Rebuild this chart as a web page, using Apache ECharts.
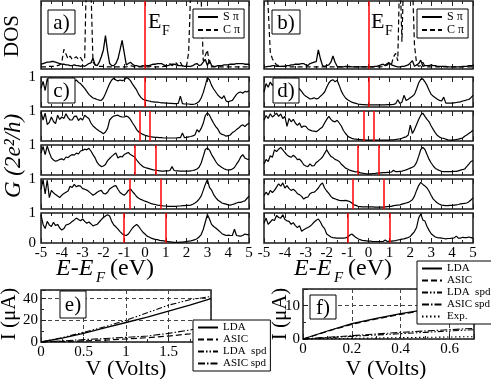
<!DOCTYPE html>
<html>
<head>
<meta charset="utf-8">
<script src="https://cdn.jsdelivr.net/npm/echarts@6/dist/echarts.min.js"></script>
<style>
  html, body { margin: 0; padding: 0; background: #fff; }
  #chart { width: 491px; height: 379px; }
</style>
</head>
<body>
<div id="chart"></div>
<script>
// energy sampling of the DOS / transmission curves (eV), 0.1 eV steps from -5 to 5
const energy = [];
for (let i = 0; i <= 100; i++) energy.push((i - 50) / 10);

// DOS, panel a (arb. units, 1 = top of frame)
const dosSpiA = [
  0.07, 0.08, 0.09, 0.1, 0.1, 0.11, 0.11, 0.1, 0.09, 0.08,
  0.07, 0.07, 0.06, 0.06, 0.05, 0.05, 0.06, 0.05, 0.05, 0.04,
  0.05, 0.04, 0.06, 0.08, 0.09, 0.16, 0.06, 0.05, 0.1, 0.18,
  0.28, 0.49, 0.26, 0.08, 0.05, 0.05, 0.08, 0.15, 0.28, 0.42,
  0.24, 0.06, 0.08, 0.1, 0.07, 0.05, 0.05, 0.04, 0.04, 0.05,
  0.04, 0.05, 0.05, 0.06, 0.07, 0.07, 0.08, 0.08, 0.08, 0.06,
  0.05, 0.05, 0.06, 0.07, 0.07, 0.06, 0.05, 0.05, 0.05, 0.04,
  0.04, 0.04, 0.04, 0.05, 0.07, 0.08, 0.05, 0.06, 0.1, 0.14,
  0.05, 0.13, 0.05, 0.04, 0.04, 0.05, 0.05, 0.05, 0.06, 0.06,
  0.06, 0.07, 0.07, 0.07, 0.08, 0.08, 0.08, 0.08, 0.07, 0.07, 0.07
];
const dosCpiA = [
  0.03, 0.03, 0.03, 0.03, 0.04, 0.04, 0.04, 0.05, 0.05, 0.06,
  0.1, 0.29, 0.22, 0.15, 0.19, 0.14, 0.16, 0.18, 0.14, 0.17,
  0.12, 0.15, 1.6, 1.4, 1.2, 0.1, 0.06, 0.05, 0.04, 0.04,
  0.04, 0.03, 0.03, 0.03, 0.03, 0.03, 0.03, 0.03, 0.03, 0.03,
  0.03, 0.03, 0.04, 0.05, 0.04, 0.03, 0.03, 0.03, 0.03, 0.03,
  0.03, 0.03, 0.03, 0.04, 0.04, 0.03, 0.03, 0.03, 0.03, 0.04,
  0.04, 0.05, 0.08, 0.05, 0.06, 0.09, 0.05, 0.1, 0.04, 0.04,
  0.05, 0.25, 1.2, 1.6, 1.8, 1.6, 1.3, 1.05, 0.12, 0.2,
  0.28, 0.06, 0.03, 0.03, 0.03, 0.03, 0.03, 0.03, 0.03, 0.03,
  0.03, 0.03, 0.03, 0.03, 0.03, 0.03, 0.03, 0.03, 0.03, 0.03, 0.03
];
// DOS, panel b
const dosSpiB = [
  0.03, 0.03, 0.04, 0.04, 0.05, 0.05, 0.04, 0.04, 0.04, 0.04,
  0.04, 0.05, 0.05, 0.06, 0.06, 0.07, 0.07, 0.07, 0.08, 0.08,
  0.06, 0.05, 0.08, 0.09, 0.1, 0.11, 0.28, 0.15, 0.05, 0.04,
  0.05, 0.06, 0.1, 0.19, 0.1, 0.04, 0.03, 0.03, 0.03, 0.04,
  0.04, 0.04, 0.03, 0.03, 0.03, 0.03, 0.03, 0.03, 0.03, 0.03,
  0.03, 0.03, 0.03, 0.04, 0.04, 0.05, 0.06, 0.07, 0.05, 0.06,
  0.09, 0.06, 0.05, 0.04, 0.03, 0.03, 0.04, 0.04, 0.05, 0.06,
  0.09, 0.12, 0.04, 0.06, 0.08, 0.13, 0.04, 0.05, 0.05, 0.05,
  0.06, 0.05, 0.05, 0.04, 0.04, 0.04, 0.04, 0.04, 0.03, 0.03,
  0.03, 0.03, 0.03, 0.03, 0.03, 0.04, 0.04, 0.04, 0.05, 0.05, 0.05
];
const dosCpiB = [
  1.6, 1.4, 0.9, 0.25, 0.15, 0.1, 0.06, 0.05, 0.04, 0.04,
  0.04, 0.03, 0.03, 0.03, 0.03, 0.03, 0.03, 0.03, 0.03, 0.03,
  0.03, 0.03, 0.03, 0.03, 0.03, 0.03, 0.03, 0.03, 0.03, 0.03,
  0.03, 0.03, 0.03, 0.03, 0.03, 0.03, 0.03, 0.03, 0.03, 0.03,
  0.03, 0.03, 0.03, 0.03, 0.03, 0.03, 0.03, 0.03, 0.03, 0.03,
  0.03, 0.03, 0.03, 0.03, 0.03, 0.03, 0.03, 0.04, 0.06, 0.08,
  0.1, 0.07, 0.18, 0.23, 0.12, 1.5, 0.4, 1.6, 1.2, 1.8,
  1.5, 1.3, 0.35, 0.08, 0.04, 0.05, 0.1, 0.04, 0.03, 0.03,
  0.03, 0.03, 0.03, 0.03, 0.03, 0.03, 0.03, 0.03, 0.03, 0.03,
  0.03, 0.03, 0.03, 0.03, 0.03, 0.03, 0.03, 0.03, 0.03, 0.03, 0.03
];

// conductance G (2e^2/h), panels c (one row per bias)
const gC1 = [
  0.62, 0.85, 0.55, 0.95, 0.75, 0.9, 0.8, 0.92, 0.7, 0.85,
  0.78, 0.9, 0.82, 0.95, 0.88, 0.92, 0.86, 0.9, 0.82, 0.78,
  0.7, 0.62, 0.52, 0.42, 0.36, 0.3, 0.28, 0.25, 0.23, 0.22,
  0.3, 0.45, 0.62, 0.78, 0.9, 0.96, 0.9, 0.87, 0.9, 0.88,
  0.9, 0.98, 0.95, 0.88, 0.76, 0.66, 0.56, 0.42, 0.32, 0.26,
  0.23, 0.21, 0.2, 0.18, 0.17, 0.16, 0.16, 0.15, 0.14, 0.14,
  0.13, 0.13, 0.12, 0.12, 0.11, 0.11, 0.12, 0.36, 0.11, 0.1,
  0.1, 0.1, 0.09, 0.09, 0.1, 0.13, 0.18, 0.3, 0.48, 0.72,
  0.98, 0.9, 0.72, 0.6, 0.5, 0.4, 0.33, 0.28, 0.38, 0.2,
  0.17, 0.2, 0.22, 0.32, 0.42, 0.48, 0.5, 0.46, 0.52, 0.5, 0.54
];
const gC2 = [
  0.97, 0.7, 0.93, 0.55, 0.62, 0.8, 0.65, 0.58, 0.86, 0.72,
  0.8, 0.75, 0.91, 0.78, 0.7, 0.7, 0.82, 0.83, 0.68, 0.76,
  0.7, 0.86, 0.8, 0.75, 0.6, 0.5, 0.44, 0.38, 0.33, 0.29,
  0.24, 0.3, 0.42, 0.7, 0.78, 0.83, 0.85, 0.86, 0.82, 0.8,
  0.8, 0.83, 0.8, 0.72, 0.6, 0.5, 0.38, 0.3, 0.26, 0.22,
  0.19, 0.17, 0.15, 0.14, 0.13, 0.12, 0.12, 0.11, 0.11, 0.1,
  0.1, 0.1, 0.1, 0.1, 0.1, 0.1, 0.11, 0.11, 0.27, 0.11,
  0.12, 0.14, 0.15, 0.17, 0.2, 0.38, 0.3, 0.42, 0.59, 0.85,
  0.94, 0.86, 0.72, 0.59, 0.48, 0.4, 0.27, 0.22, 0.2, 0.16,
  0.18, 0.2, 0.28, 0.32, 0.38, 0.43, 0.5, 0.54, 0.48, 0.55, 0.59
];
const gC3 = [
  0.73, 0.95, 0.68, 0.97, 0.75, 0.57, 0.5, 0.46, 0.48, 0.52,
  0.54, 0.5, 0.6, 0.58, 0.64, 0.68, 0.66, 0.73, 0.7, 0.8,
  0.82, 0.86, 0.84, 0.89, 0.8, 0.68, 0.57, 0.42, 0.33, 0.28,
  0.3, 0.35, 0.48, 0.55, 0.62, 0.68, 0.73, 0.57, 0.62, 0.6,
  0.68, 0.72, 0.75, 0.68, 0.64, 0.6, 0.5, 0.41, 0.34, 0.28,
  0.25, 0.23, 0.21, 0.19, 0.17, 0.16, 0.15, 0.14, 0.13, 0.13,
  0.14, 0.14, 0.15, 0.28, 0.15, 0.14, 0.14, 0.13, 0.13, 0.13,
  0.13, 0.13, 0.14, 0.15, 0.17, 0.2, 0.26, 0.4, 0.62, 0.85,
  0.9, 0.83, 0.68, 0.57, 0.45, 0.35, 0.3, 0.25, 0.21, 0.18,
  0.17, 0.17, 0.2, 0.25, 0.36, 0.46, 0.6, 0.68, 0.57, 0.53, 0.52
];
const gC4 = [
  0.65, 0.98, 0.5, 0.96, 0.38, 0.62, 0.54, 0.48, 0.43, 0.38,
  0.46, 0.52, 0.56, 0.6, 0.76, 0.72, 0.82, 0.74, 0.78, 0.76,
  0.68, 0.66, 0.63, 0.58, 0.52, 0.46, 0.5, 0.56, 0.6, 0.62,
  0.52, 0.5, 0.56, 0.67, 0.72, 0.76, 0.78, 0.66, 0.55, 0.5,
  0.46, 0.52, 0.62, 0.67, 0.58, 0.5, 0.41, 0.36, 0.32, 0.29,
  0.26, 0.24, 0.21, 0.18, 0.16, 0.15, 0.13, 0.12, 0.11, 0.1,
  0.1, 0.09, 0.09, 0.09, 0.09, 0.09, 0.1, 0.1, 0.11, 0.11,
  0.12, 0.12, 0.13, 0.16, 0.2, 0.25, 0.33, 0.43, 0.62, 0.82,
  0.98, 0.72, 0.63, 0.48, 0.38, 0.3, 0.25, 0.2, 0.18, 0.16,
  0.14, 0.13, 0.15, 0.17, 0.2, 0.22, 0.22, 0.25, 0.27, 0.35, 0.43
];
const gC5 = [
  0.94, 0.62, 0.48, 0.72, 0.6, 0.55, 0.69, 0.58, 0.62, 0.5,
  0.43, 0.48, 0.6, 0.62, 0.66, 0.72, 0.77, 0.83, 0.78, 0.74,
  0.8, 0.72, 0.66, 0.7, 0.64, 0.57, 0.6, 0.62, 0.7, 0.78,
  0.85, 0.9, 0.94, 0.9, 0.72, 0.6, 0.54, 0.46, 0.38, 0.31,
  0.26, 0.25, 0.3, 0.4, 0.5, 0.57, 0.62, 0.55, 0.45, 0.36,
  0.3, 0.23, 0.2, 0.16, 0.14, 0.12, 0.11, 0.09, 0.08, 0.07,
  0.06, 0.05, 0.04, 0.03, 0.02, 0.02, 0.02, 0.03, 0.03, 0.04,
  0.05, 0.06, 0.07, 0.09, 0.11, 0.14, 0.2, 0.28, 0.45, 0.7,
  0.95, 0.8, 0.62, 0.55, 0.5, 0.44, 0.38, 0.31, 0.28, 0.25,
  0.26, 0.25, 0.25, 0.46, 0.25, 0.24, 0.23, 0.25, 0.3, 0.28, 0.28
];
// conductance, panels d
const gD1 = [
  0.5, 0.78, 0.66, 0.83, 0.72, 0.8, 0.7, 0.76, 0.68, 0.74,
  0.7, 0.72, 0.66, 0.7, 0.64, 0.68, 0.67, 0.6, 0.52, 0.42,
  0.36, 0.32, 0.27, 0.28, 0.31, 0.27, 0.29, 0.36, 0.42, 0.5,
  0.66, 0.8, 0.88, 0.91, 0.84, 0.89, 0.72, 0.53, 0.4, 0.3,
  0.24, 0.2, 0.16, 0.14, 0.12, 0.1, 0.09, 0.08, 0.08, 0.07,
  0.07, 0.07, 0.07, 0.07, 0.07, 0.07, 0.07, 0.07, 0.07, 0.08,
  0.08, 0.08, 0.09, 0.11, 0.24, 0.12, 0.16, 0.39, 0.22, 0.26,
  0.31, 0.36, 0.42, 0.6, 0.8, 0.92, 0.94, 0.84, 0.72, 0.56,
  0.42, 0.36, 0.31, 0.26, 0.22, 0.2, 0.33, 0.13, 0.13, 0.13,
  0.13, 0.14, 0.15, 0.16, 0.17, 0.2, 0.21, 0.24, 0.25, 0.31, 0.39
];
const gD2 = [
  0.69, 0.85, 0.75, 0.91, 0.8, 0.86, 0.93, 0.82, 0.9, 0.75,
  0.82, 0.49, 0.75, 0.64, 0.72, 0.6, 0.52, 0.6, 0.45, 0.5,
  0.49, 0.4, 0.36, 0.34, 0.33, 0.31, 0.36, 0.42, 0.47, 0.6,
  0.72, 0.82, 0.72, 0.66, 0.64, 0.69, 0.6, 0.5, 0.35, 0.25,
  0.17, 0.12, 0.09, 0.07, 0.06, 0.05, 0.05, 0.04, 0.04, 0.03,
  0.03, 0.03, 0.03, 0.03, 0.03, 0.03, 0.03, 0.03, 0.03, 0.03,
  0.03, 0.04, 0.04, 0.05, 0.06, 0.07, 0.09, 0.12, 0.14, 0.2,
  0.53, 0.25, 0.38, 0.55, 0.72, 0.86, 0.93, 0.82, 0.72, 0.64,
  0.5, 0.38, 0.27, 0.18, 0.13, 0.1, 0.09, 0.06, 0.04, 0.03,
  0.03, 0.04, 0.05, 0.06, 0.08, 0.1, 0.16, 0.2, 0.25, 0.3, 0.36
];
const gD3 = [
  0.37, 0.52, 0.45, 0.64, 0.59, 0.84, 0.78, 0.86, 0.92, 0.84,
  0.75, 0.67, 0.62, 0.59, 0.66, 0.6, 0.51, 0.53, 0.45, 0.34,
  0.3, 0.28, 0.37, 0.3, 0.31, 0.42, 0.47, 0.53, 0.6, 0.72,
  0.84, 0.72, 0.62, 0.58, 0.52, 0.49, 0.45, 0.36, 0.3, 0.23,
  0.2, 0.16, 0.14, 0.12, 0.1, 0.12, 0.07, 0.06, 0.05, 0.04,
  0.04, 0.04, 0.05, 0.05, 0.06, 0.07, 0.07, 0.08, 0.08, 0.09,
  0.09, 0.1, 0.16, 0.11, 0.11, 0.12, 0.13, 0.15, 0.17, 0.2,
  0.23, 0.26, 0.3, 0.42, 0.62, 0.85, 0.92, 0.85, 0.68, 0.52,
  0.4, 0.3, 0.22, 0.18, 0.15, 0.12, 0.11, 0.11, 0.11, 0.11,
  0.11, 0.12, 0.12, 0.14, 0.16, 0.18, 0.2, 0.28, 0.36, 0.45, 0.48
];
const gD4 = [
  0.44, 0.56, 0.47, 0.62, 0.55, 0.62, 0.73, 0.84, 0.76, 0.87,
  0.7, 0.78, 0.68, 0.62, 0.66, 0.6, 0.51, 0.48, 0.42, 0.33,
  0.38, 0.4, 0.51, 0.55, 0.56, 0.62, 0.7, 0.81, 0.87, 0.7,
  0.6, 0.52, 0.42, 0.36, 0.34, 0.31, 0.29, 0.28, 0.28, 0.29,
  0.27, 0.25, 0.2, 0.14, 0.12, 0.09, 0.08, 0.07, 0.07, 0.07,
  0.07, 0.07, 0.07, 0.06, 0.06, 0.06, 0.06, 0.06, 0.07, 0.08,
  0.09, 0.09, 0.11, 0.12, 0.13, 0.14, 0.16, 0.18, 0.2, 0.22,
  0.26, 0.31, 0.43, 0.62, 0.78, 0.89, 0.82, 0.77, 0.7, 0.59,
  0.45, 0.33, 0.26, 0.2, 0.16, 0.13, 0.12, 0.11, 0.11, 0.12,
  0.12, 0.13, 0.14, 0.15, 0.17, 0.18, 0.19, 0.2, 0.24, 0.3, 0.37
];
const gD5 = [
  0.66, 0.83, 0.62, 0.7, 0.78, 0.75, 0.92, 0.85, 0.83, 0.94,
  0.78, 0.74, 0.72, 0.62, 0.68, 0.58, 0.51, 0.58, 0.39, 0.44,
  0.48, 0.52, 0.56, 0.62, 0.7, 0.76, 0.8, 0.7, 0.56, 0.48,
  0.3, 0.25, 0.2, 0.18, 0.17, 0.16, 0.16, 0.16, 0.16, 0.17,
  0.2, 0.26, 0.3, 0.24, 0.18, 0.14, 0.11, 0.09, 0.08, 0.07,
  0.06, 0.06, 0.05, 0.05, 0.05, 0.05, 0.05, 0.05, 0.1, 0.05,
  0.06, 0.06, 0.07, 0.08, 0.1, 0.11, 0.13, 0.14, 0.16, 0.18,
  0.22, 0.3, 0.38, 0.52, 0.83, 0.97, 0.77, 0.73, 0.55, 0.42,
  0.31, 0.25, 0.2, 0.18, 0.17, 0.16, 0.15, 0.14, 0.15, 0.15,
  0.16, 0.17, 0.23, 0.16, 0.16, 0.19, 0.18, 0.18, 0.2, 0.18, 0.16
];
const biasRows = [0, 0.5, 1, 1.5, 2]; // applied bias of each row (V); red lines at +-V/2

// I-V curves, panel e
const voltE = [0, 0.25, 0.5, 0.75, 1, 1.25, 1.5, 1.75, 2];
const ldaE = [0, 3.5, 8, 13, 18, 23, 28.5, 34, 40];
const asicE = [0, 0.5, 1, 1.8, 2.8, 4, 5.5, 7.5, 10];
const ldaSpdE = [0, 4, 9, 14, 20, 27, 34, 39, 42];
const asicSpdE = [0, 1, 2.2, 3.2, 4.3, 5.5, 8, 11, 16];
// I-V curves, panel f
const voltF = [0, 0.1, 0.2, 0.3, 0.4, 0.5, 0.6, 0.7];
const ldaF = [0, 2.4, 4.6, 6.2, 7.6, 8.8, 10, 11];
const asicF = [0, 2.3, 4.4, 6, 7.4, 8.6, 9.8, 10.8];
const ldaSpdF = [0, 0.4, 0.8, 1.2, 1.6, 2, 2.4, 2.8];
const asicSpdF = [0, 0.5, 1, 1.5, 2, 2.4, 2.8, 3.2];
const expF = [0, 0.1, 0.2, 0.3, 0.4, 0.5, 0.6, 0.7];

const font = 'Liberation Serif';
const chart = echarts.init(document.getElementById('chart'));

const grid = [], xAxis = [], yAxis = [], series = [];

function addGrid(left, top, width, height) {
  grid.push({ left: left, top: top, width: width, height: height, show: true,
    borderColor: '#1a1a1a', borderWidth: 1.5, backgroundColor: 'transparent' });
  return grid.length - 1;
}

function energyAxes(gi, showLabels) {
  var tick = { show: true, inside: true, length: 5, lineStyle: { color: '#222', width: 1 } };
  var minor = { show: true, splitNumber: 2, length: 3, lineStyle: { color: '#222', width: 1 } };
  xAxis.push({ gridIndex: gi, type: 'value', min: -5, max: 5, interval: 1, position: 'bottom',
    axisLine: { show: false }, axisTick: tick, minorTick: minor, splitLine: { show: false },
    axisLabel: { show: showLabels, fontFamily: font, fontSize: 15, color: '#000', margin: 3 } });
  var xi = xAxis.length - 1;
  xAxis.push({ gridIndex: gi, type: 'value', min: -5, max: 5, interval: 1, position: 'top',
    axisLine: { show: false }, axisTick: tick, minorTick: minor, splitLine: { show: false },
    axisLabel: { show: false } });
  return xi;
}

function plainY(gi, max, labelFn) {
  yAxis.push({ gridIndex: gi, type: 'value', min: 0, max: max, interval: 1,
    axisLine: { show: false }, axisTick: { show: false }, splitLine: { show: false },
    axisLabel: { show: !!labelFn, formatter: labelFn, fontFamily: font, fontSize: 15, color: '#000', margin: 5 } });
  return yAxis.length - 1;
}

function redLines(xs) {
  return { symbol: ['none', 'none'], silent: true, animation: false, label: { show: false },
    emphasis: { disabled: true },
    lineStyle: { color: '#ff0000', width: 1.5, type: 'solid', opacity: 1 },
    data: xs.map(function (x) { return { xAxis: x }; }) };
}

function curve(name, xi, yi, xs, ys, dash, width) {
  return { name: name, type: 'line', xAxisIndex: xi, yAxisIndex: yi,
    data: xs.map(function (x, i) { return [x, ys[i]]; }),
    symbol: 'circle', showSymbol: false, clip: true, silent: true, z: 3,
    lineStyle: { color: '#000', width: width || 1.1, type: dash || 'solid' },
    itemStyle: { color: '#000' } };
}

// DOS panels (a, b)
const colLeft = [41, 264], colWidth = [208, 209];
const dosSets = [[dosSpiA, dosCpiA], [dosSpiB, dosCpiB]];
dosSets.forEach(function (set, c) {
  var gi = addGrid(colLeft[c], 1, colWidth[c], 68);
  var xi = energyAxes(gi, false);
  var yi = plainY(gi, 1, null);
  var s = curve('S π', xi, yi, energy, set[0], 'solid', 1.3);
  s.markLine = redLines([0]);
  series.push(s);
  series.push(curve('C π', xi, yi, energy, set[1], [5, 3], 1.2));
});

// conductance stacks (c, d)
const rowTop = [77, 111, 145, 179, 213];
const gSets = [[gC1, gC2, gC3, gC4, gC5], [gD1, gD2, gD3, gD4, gD5]];
gSets.forEach(function (rows, c) {
  rows.forEach(function (vals, r) {
    var gi = addGrid(colLeft[c], rowTop[r], colWidth[c], 30);
    var xi = energyAxes(gi, r === 4);
    var labelFn = c === 0 ? function (v) { return v === 1 ? '1' : (r === 4 ? '0' : ''); } : null;
    var yi = plainY(gi, 1, labelFn);
    var v = biasRows[r];
    var s = curve('G' + c + r, xi, yi, energy, vals, 'solid', 1.2);
    s.markLine = redLines(v === 0 ? [0] : [-v / 2, v / 2]);
    series.push(s);
  });
});

// I-V panels (e, f)
function ivAxes(gi, xmax, xint, ymax, yint) {
  var dash = { show: true, lineStyle: { color: '#444', width: 1, type: [4, 3] } };
  var tick = { show: true, inside: true, length: 5, lineStyle: { color: '#222' } };
  xAxis.push({ gridIndex: gi, type: 'value', min: 0, max: xmax, interval: xint,
    axisLine: { show: false }, axisTick: tick, splitLine: dash,
    minorTick: { show: true, splitNumber: 2, length: 3, lineStyle: { color: '#222' } },
    axisLabel: { fontFamily: font, fontSize: 15, color: '#000', margin: 3, showMaxLabel: false } });
  yAxis.push({ gridIndex: gi, type: 'value', min: 0, max: ymax, interval: yint,
    axisLine: { show: false }, axisTick: tick, splitLine: dash,
    minorTick: { show: true, splitNumber: 2, length: 3, lineStyle: { color: '#222' } },
    axisLabel: { fontFamily: font, fontSize: 15, color: '#000', margin: 3, showMaxLabel: false } });
  return [xAxis.length - 1, yAxis.length - 1];
}
const styleLDA = 'solid', styleASIC = [6, 3], styleLdaSpd = [6, 2, 1.5, 2, 1.5, 2],
  styleAsicSpd = [7, 2, 1.5, 2], styleExp = [1.5, 2.5];

var ge = addGrid(41, 290, 170, 52);
var ae = ivAxes(ge, 2, 0.5, 48, 20);
series.push(curve('LDA', ae[0], ae[1], voltE, ldaE, styleLDA, 1.3));
series.push(curve('ASIC', ae[0], ae[1], voltE, asicE, styleASIC, 1.2));
series.push(curve('LDA  spd', ae[0], ae[1], voltE, ldaSpdE, styleLdaSpd, 1.1));
series.push(curve('ASIC spd', ae[0], ae[1], voltE, asicSpdE, styleAsicSpd, 1.1));

var gf = addGrid(303, 289, 171, 50);
var af = ivAxes(gf, 0.7, 0.2, 15, 10);
series.push(curve('LDA', af[0], af[1], voltF, ldaF, styleLDA, 1.3));
series.push(curve('ASIC', af[0], af[1], voltF, asicF, styleASIC, 1.2));
series.push(curve('LDA  spd', af[0], af[1], voltF, ldaSpdF, styleLdaSpd, 1.1));
series.push(curve('ASIC spd', af[0], af[1], voltF, asicSpdF, styleAsicSpd, 1.1));
series.push(curve('Exp.', af[0], af[1], voltF, expF, styleExp, 1.1));

function legendBox(names, left, top, fs, gap) {
  return { data: names, left: left, top: top, orient: 'vertical', selectedMode: false,
    backgroundColor: '#fff', borderColor: '#000', borderWidth: 1, padding: [2, 4, 2, 4],
    itemGap: gap, itemWidth: 20, itemHeight: 9, z: 20,
    itemStyle: { opacity: 0 },
    textStyle: { fontFamily: font, fontSize: fs, color: '#000' } };
}

// panel tags and texts
const graphic = [];
function tag(txt, x, y, w, h) {
  graphic.push({ type: 'rect', z: 100, shape: { x: x, y: y, width: w, height: h },
    style: { fill: '#fff', stroke: '#000', lineWidth: 1 } });
  graphic.push({ type: 'text', z: 101, x: x + w / 2, y: y + h / 2 + 1,
    style: { text: txt, fontFamily: font, fontSize: 21, fill: '#000', textAlign: 'center', textVerticalAlign: 'middle' } });
}
function label(txt, x, y, size, opts) {
  var o = opts || {};
  graphic.push({ type: 'text', z: 101, x: x, y: y, rotation: o.rot || 0,
    style: { text: txt, fontFamily: font, fontSize: size, fontStyle: o.italic ? 'italic' : 'normal',
      fill: '#000', textAlign: o.align || 'left', textVerticalAlign: o.valign || 'top' } });
}
tag('a)', 48, 10, 27, 24);
tag('b)', 272, 10, 28, 24);
tag('c)', 48, 78, 27, 25);
tag('d)', 273, 78, 26, 25);
tag('e)', 60, 291, 26, 27);
tag('f)', 310, 295, 26, 24);

label('E', 148, 11, 22);
label('F', 162, 24, 14);
label('E', 371, 11, 22);
label('F', 385, 24, 14);

label('DOS', 12, 36, 21, { rot: Math.PI / 2, align: 'center', valign: 'middle' });
label('G (2e²/h)', 14, 156, 23, { rot: Math.PI / 2, align: 'center', valign: 'middle', italic: true });

label('E-E', 56, 257, 24, { italic: true });
label('F', 96, 271, 15, { italic: true });
label('(eV)', 110, 257, 24);
label('E-E', 294, 257, 24, { italic: true });
label('F', 334, 271, 15, { italic: true });
label('(eV)', 348, 257, 24);

label('I (μA)', 9, 314, 21, { rot: Math.PI / 2, align: 'center', valign: 'middle' });
label('I (μA)', 280, 314, 21, { rot: Math.PI / 2, align: 'center', valign: 'middle' });
label('V (Volts)', 126, 369, 22, { align: 'center', valign: 'middle' });
label('V (Volts)', 386, 369, 22, { align: 'center', valign: 'middle' });

chart.setOption({
  animation: false,
  backgroundColor: '#fff',
  color: ['#000'],
  grid: grid,
  xAxis: xAxis,
  yAxis: yAxis,
  legend: [
    legendBox(['S π', 'C π'], 193, 9, 12, 1),
    legendBox(['S π', 'C π'], 417, 9, 12, 1),
    legendBox(['LDA', 'ASIC', 'LDA  spd', 'ASIC spd'], 193, 320, 11, 1),
    legendBox(['LDA', 'ASIC', 'LDA  spd', 'ASIC spd', 'Exp.'], 417, 261, 11, 1)
  ],
  graphic: graphic,
  series: series
});
</script>
</body>
</html>
